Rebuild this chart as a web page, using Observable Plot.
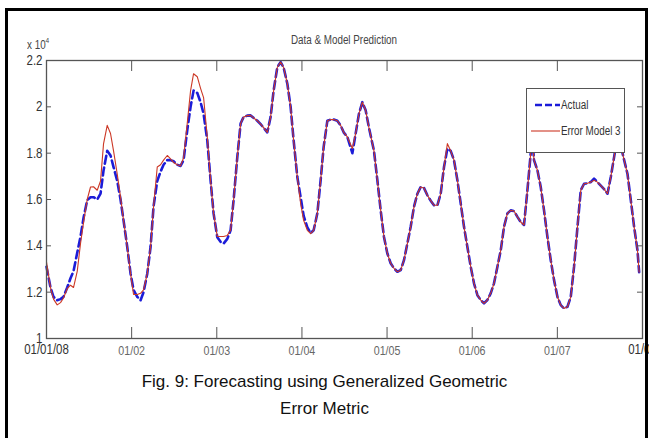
<!DOCTYPE html>
<html><head><meta charset="utf-8">
<script src="https://cdn.jsdelivr.net/npm/d3@7"></script>
<script src="https://cdn.jsdelivr.net/npm/@observablehq/plot@0.6"></script>
<style>
body{margin:0;background:#fff;}
#wrap{position:relative;width:649px;height:438px;overflow:hidden;background:#fff;}
#chart{position:absolute;left:0;top:0;}
#border{position:absolute;left:5px;top:8px;width:637px;height:450px;border:3px solid #000;border-bottom:none;}
.narrow{font-family:'Liberation Sans',Arial,sans-serif;}
#title{position:absolute;left:244px;width:200px;top:33px;text-align:center;font-size:12px;color:#444;transform:scaleX(0.82);transform-origin:100px 0;}
#mult{position:absolute;left:27px;top:36px;font-size:12px;color:#444;transform:scaleX(0.82);transform-origin:0 0;}
#mult sup{font-size:8px;vertical-align:6px;}
#caption{position:absolute;left:0;width:649px;top:368px;text-align:center;font-family:'Liberation Sans',Arial,sans-serif;font-size:17px;line-height:27px;color:#111;}
#legend{position:absolute;left:526px;top:88px;}
</style></head><body>
<div id="wrap">
  <div id="chart"></div>
  <div id="border"></div>
  <div id="title" class="narrow">Data &amp; Model Prediction</div>
  <div id="mult" class="narrow">x 10<sup>4</sup></div>
  <div id="legend"></div>
  <div id="caption">Fig. 9: Forecasting using Generalized Geometric<br>Error Metric</div>
</div>
<script>
// time in days from 01/01/08
const days = [
  0, 1.43, 2.50, 3.83, 5.01, 6.08, 7.40, 8.58, 9.65, 10.98,
  12.16, 13.23, 14.55, 15.73, 16.81, 18.13, 19.31, 20.38, 21.70, 22.88,
  23.96, 25.28, 26.46, 27.53, 28.86, 30.04, 31.11, 32.43, 33.61, 34.68,
  36.01, 37.19, 38.26, 39.58, 40.76, 41.84, 43.16, 44.34, 45.41, 46.73,
  47.91, 48.99, 50.31, 51.49, 52.56, 53.88, 55.06, 56.14, 57.46, 58.64,
  59.71, 61.04, 62.22, 63.29, 64.61, 65.79, 66.86, 68.19, 69.37, 70.44,
  71.76, 72.94, 74.02, 75.34, 76.52, 77.59, 78.91, 80.09, 81.17, 82.49,
  83.67, 84.74, 86.07, 87.24, 88.32, 89.64, 90.82, 91.89, 93.22, 94.40,
  95.47, 96.79, 97.97, 99.04, 100.37, 101.55, 102.62, 103.94, 105.12, 106.20,
  107.52, 109.31, 110.49, 111.67, 112.88, 114.06, 115.24, 117.03, 118.25, 119.43,
  120.61, 121.82, 123.00, 124.18, 125.40, 126.58, 127.76, 128.97, 130.15, 131.33,
  132.55, 133.73, 134.91, 136.12, 137.30, 138.48, 139.70, 140.88, 142.06, 143.27,
  144.45, 145.63, 146.85, 148.03, 149.21, 150.42, 151.60, 152.78, 154.00, 155.18,
  156.36, 157.57, 158.75, 159.93, 161.15, 162.33, 163.51, 164.72, 165.91, 167.08,
  168.30, 169.48, 170.66, 171.87, 173.06, 173.66, 174.23, 175.45, 176.63, 177.81,
  179.03, 180.21, 181.39, 182.60, 183.79, 184.96, 186.18, 187.36, 188.54, 189.76,
  190.94, 192.12, 193.33, 194.51, 195.69, 196.91, 198.09, 199.27, 200.49, 201.67,
  202.85, 204.06, 204.60, 205.85, 207.64, 208.82, 210.00, 211.21, 211.80
];
// values in units of 10^4
const actual = [
  1.31, 1.22, 1.18, 1.165, 1.17, 1.18, 1.22, 1.26, 1.29, 1.37,
  1.44, 1.52, 1.597, 1.61, 1.61, 1.60, 1.625, 1.725, 1.81, 1.79,
  1.74, 1.68, 1.60, 1.51, 1.395, 1.28, 1.21, 1.18, 1.165, 1.20,
  1.28, 1.395, 1.57, 1.68, 1.72, 1.75, 1.77, 1.77, 1.765, 1.75,
  1.745, 1.77, 1.90, 2.00, 2.07, 2.06, 2.02, 1.97, 1.855, 1.683,
  1.54, 1.437, 1.417, 1.41, 1.43, 1.467, 1.597, 1.783, 1.928, 1.956,
  1.962, 1.963, 1.952, 1.94, 1.925, 1.91, 1.89, 1.956, 2.07, 2.171,
  2.193, 2.17, 2.10, 2.00, 1.855, 1.697, 1.61, 1.53, 1.48, 1.455,
  1.467, 1.54, 1.683, 1.826, 1.94, 1.945, 1.945, 1.94, 1.92, 1.89,
  1.87, 1.80, 1.885, 1.97, 2.02, 1.985, 1.91, 1.81, 1.683, 1.553,
  1.438, 1.367, 1.325, 1.303, 1.288, 1.295, 1.338, 1.41, 1.482, 1.568,
  1.625, 1.654, 1.65, 1.618, 1.595, 1.575, 1.575, 1.625, 1.74, 1.82,
  1.81, 1.77, 1.683, 1.583, 1.482, 1.395, 1.31, 1.238, 1.187, 1.166,
  1.152, 1.166, 1.195, 1.238, 1.31, 1.38, 1.482, 1.54, 1.553, 1.55,
  1.525, 1.503, 1.49, 1.64, 1.80, 1.86, 1.77, 1.726, 1.654, 1.553,
  1.438, 1.338, 1.252, 1.18, 1.144, 1.13, 1.137, 1.18, 1.31, 1.482,
  1.64, 1.668, 1.67, 1.675, 1.69, 1.675, 1.66, 1.645, 1.625, 1.697,
  1.783, 1.87, 1.90, 1.80, 1.71, 1.597, 1.482, 1.38, 1.286
];
const model = [
  1.33, 1.22, 1.17, 1.145, 1.155, 1.175, 1.215, 1.23, 1.22, 1.29,
  1.41, 1.50, 1.60, 1.654, 1.655, 1.64, 1.68, 1.84, 1.92, 1.885,
  1.81, 1.71, 1.61, 1.51, 1.395, 1.28, 1.19, 1.19, 1.195, 1.21,
  1.28, 1.395, 1.57, 1.74, 1.75, 1.77, 1.79, 1.775, 1.76, 1.75,
  1.745, 1.78, 1.93, 2.07, 2.143, 2.13, 2.08, 2.04, 1.87, 1.683,
  1.54, 1.44, 1.44, 1.44, 1.445, 1.467, 1.597, 1.783, 1.928, 1.956,
  1.962, 1.963, 1.952, 1.94, 1.925, 1.91, 1.89, 1.956, 2.07, 2.171,
  2.193, 2.17, 2.10, 2.00, 1.855, 1.697, 1.583, 1.51, 1.467, 1.453,
  1.467, 1.54, 1.683, 1.826, 1.94, 1.945, 1.945, 1.94, 1.92, 1.89,
  1.87, 1.82, 1.885, 1.97, 2.02, 1.985, 1.91, 1.81, 1.683, 1.553,
  1.438, 1.367, 1.325, 1.303, 1.288, 1.295, 1.338, 1.41, 1.482, 1.568,
  1.625, 1.654, 1.65, 1.618, 1.595, 1.575, 1.575, 1.625, 1.74, 1.841,
  1.81, 1.77, 1.683, 1.583, 1.482, 1.395, 1.31, 1.238, 1.187, 1.166,
  1.152, 1.166, 1.195, 1.238, 1.31, 1.38, 1.482, 1.54, 1.553, 1.55,
  1.525, 1.503, 1.49, 1.64, 1.80, 1.86, 1.77, 1.726, 1.654, 1.553,
  1.438, 1.338, 1.252, 1.18, 1.144, 1.13, 1.137, 1.18, 1.31, 1.482,
  1.64, 1.668, 1.67, 1.675, 1.683, 1.675, 1.66, 1.645, 1.625, 1.697,
  1.783, 1.87, 1.90, 1.80, 1.71, 1.597, 1.482, 1.38, 1.286
];
const xTickValues = [0, 30.43, 60.86, 91.29, 121.71, 152.14, 182.57, 213];
const xTickLabels = ["01/01/08", "01/02", "01/03", "01/04", "01/05", "01/06", "01/07", "01/08"];
const yTickValues = [1, 1.2, 1.4, 1.6, 1.8, 2, 2.2];
const yTickLabels = ["1", "1.2", "1.4", "1.6", "1.8", "2", "2.2"];
const seriesNames = ["Actual", "Error Model 3"];
const seriesColors = ["#1c1cd8", "#cc3826"];

const rows = days.map((d, i) => ({day: d, actual: actual[i], model: model[i]}));
const FONT = "'Liberation Sans', Arial, sans-serif";
const xLab = d => xTickLabels[xTickValues.indexOf(d)];
const yLab = d => yTickLabels[yTickValues.indexOf(d)];
const AX = "#555";

const chart = Plot.plot({
  width: 649, height: 438,
  marginLeft: 46, marginRight: 7, marginTop: 60, marginBottom: 100,
  x: {domain: [0, 213], label: null},
  y: {domain: [1, 2.2], label: null},
  style: {fontFamily: FONT, background: "transparent", color: "#444"},
  marks: [
    Plot.line(rows, {x: "day", y: "actual", stroke: seriesColors[0], strokeWidth: 2.6, strokeDasharray: "8,4"}),
    Plot.line(rows, {x: "day", y: "model", stroke: seriesColors[1], strokeWidth: 1.1}),
    Plot.frame({stroke: AX, strokeWidth: 1.3}),
    Plot.tickX(xTickValues, {x: d => d, insetTop: 267, stroke: AX}),
    Plot.tickX(xTickValues, {x: d => d, insetBottom: 267, stroke: AX}),
    Plot.tickY(yTickValues, {y: d => d, insetRight: 591, stroke: AX}),
    Plot.tickY(yTickValues, {y: d => d, insetLeft: 591, stroke: AX}),
    Plot.axisX([xTickValues[0], xTickValues[7]], {label: null, tickSize: 0, tickPadding: 6, fontSize: 14, tickFormat: xLab, fill: "#333"}),
    Plot.axisX(xTickValues.slice(1, 7), {label: null, tickSize: 0, tickPadding: 7, fontSize: 13, tickFormat: xLab, fill: "#666"}),
    Plot.axisY(yTickValues, {label: null, tickSize: 0, tickPadding: 4, fontSize: 14, tickFormat: yLab, fill: "#333"})
  ]
});
document.getElementById("chart").appendChild(chart);

// legend
const lg = d3.select("#legend").append("svg").attr("width", 99).attr("height", 65)
  .style("font-family", FONT).style("font-size", "12px");
lg.append("rect").attr("x", 0.5).attr("y", 0.5).attr("width", 98).attr("height", 64)
  .attr("fill", "#fff").attr("stroke", "#555");
seriesNames.forEach((name, i) => {
  const y = 17 + i * 26;
  lg.append("line").attr("x1", i ? 5 : 9).attr("x2", 34).attr("y1", y).attr("y2", y)
    .attr("stroke", seriesColors[i]).attr("stroke-width", i ? 1.1 : 2.6)
    .attr("stroke-dasharray", i ? null : "7,3");
  lg.append("text").attr("x", 35).attr("y", y).attr("dy", "0.35em").attr("fill", "#333").text(name);
});

// condense the text like a narrow face
document.querySelectorAll("#chart text, #legend text").forEach(t => {
  const w = t.getComputedTextLength();
  if (w > 0) {
    t.setAttribute("textLength", (w * 0.82).toFixed(1));
    t.setAttribute("lengthAdjust", "spacingAndGlyphs");
  }
});
</script>
</body></html>
